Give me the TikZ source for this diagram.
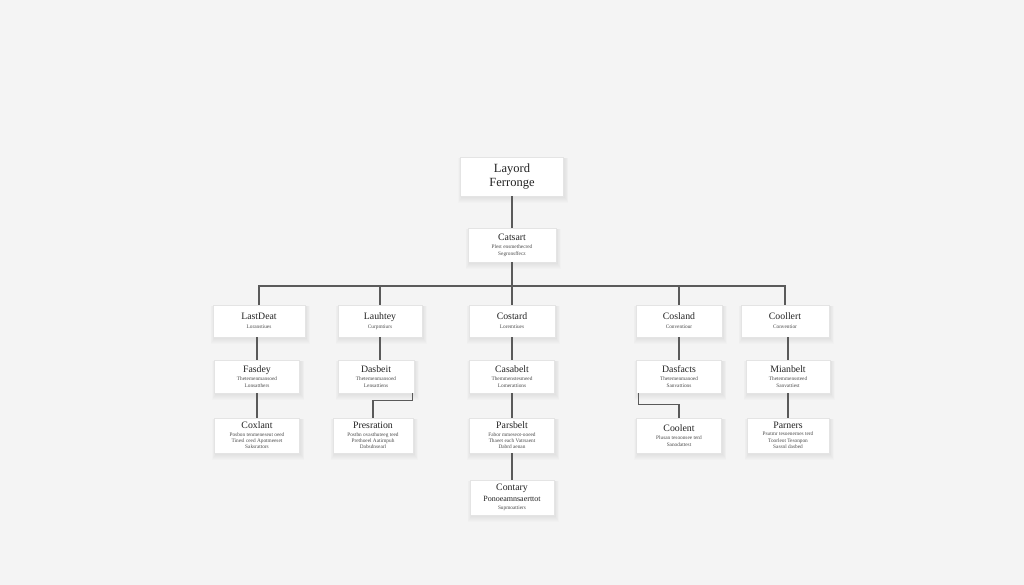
\documentclass[tikz,border=0pt]{standalone}
\usepackage{fontspec}
\setmainfont{Liberation Serif}
\definecolor{bgcol}{HTML}{F4F4F4}
\definecolor{boxline}{HTML}{E4E4E4}
\definecolor{conn}{HTML}{5A5A5A}
\definecolor{txt}{HTML}{222222}
\definecolor{subtxt}{HTML}{4A4A4A}
\pgfdeclarelayer{bglayer}
\pgfdeclarelayer{shadowlayer}
\pgfsetlayers{bglayer,shadowlayer,main}
\tikzset{
  card/.style={draw=boxline, line width=0.4pt, fill=white, align=center,
    inner sep=1pt, text=txt, font=\fontsize{5.3}{7}\selectfont},
  tall/.style={font=\fontsize{5.3}{6.4}\selectfont},
  lnk/.style={draw=conn, line width=1.2pt},
}
\newcommand{\ttl}[1]{{\fontsize{9.8}{11}\selectfont #1}}
\newcommand{\sbt}[1]{{\color{subtxt}#1}}
\begin{document}
\begin{tikzpicture}[x=1pt,y=-1pt]
\begin{pgfonlayer}{bglayer}
\fill[bgcol] (0,0) rectangle (1024,585);
\end{pgfonlayer}
% top
\node[card, minimum width=103pt, minimum height=39pt, font=\fontsize{12.5}{13.5}\selectfont] (top) at (512,176.5)
  {Layord\\Ferronge};
\node[card, minimum width=88pt, minimum height=34pt] (catsart) at (512,245)
  {\ttl{Catsart}\\[1pt]\sbt{Plest ensmethecred}\\\sbt{Segronsffecz}};
% row 1
\node[card, minimum width=92pt, minimum height=32pt] (lastdeat) at (259,321) {\ttl{LastDeat}\\[2pt]\sbt{Loranstiues}};
\node[card, minimum width=84pt, minimum height=32pt] (lauhtey) at (380,321) {\ttl{Lauhtey}\\[2pt]\sbt{Curpmtiurs}};
\node[card, minimum width=86pt, minimum height=32pt] (costard) at (512,321) {\ttl{Costard}\\[2pt]\sbt{Loremtiues}};
\node[card, minimum width=86pt, minimum height=32pt] (cosland) at (679,321) {\ttl{Cosland}\\[2pt]\sbt{Conventiour}};
\node[card, minimum width=88pt, minimum height=32pt] (coollert) at (785,321) {\ttl{Coollert}\\[2pt]\sbt{Conventior}};
% row 2
\node[card, minimum width=85pt, minimum height=33pt] (fasdey) at (257,376.5) {\ttl{Fasdey}\\[1pt]\sbt{Thetemenmansoed}\\\sbt{Lonsatthers}};
\node[card, minimum width=76pt, minimum height=33pt] (dasbeit) at (376,376.5) {\ttl{Dasbeit}\\[1pt]\sbt{Thetemenmansoed}\\\sbt{Lensattiens}};
\node[card, minimum width=85pt, minimum height=33pt] (casabelt) at (512,376.5) {\ttl{Casabelt}\\[1pt]\sbt{Themmenstesmeed}\\\sbt{Lomerattions}};
\node[card, minimum width=85pt, minimum height=33pt] (dasfacts) at (679,376.5) {\ttl{Dasfacts}\\[1pt]\sbt{Thetemenmanoed}\\\sbt{Sanvattions}};
\node[card, minimum width=84pt, minimum height=33pt] (mianbelt) at (788,376.5) {\ttl{Mianbelt}\\[1pt]\sbt{Thetemmenssteed}\\\sbt{Sanvattiest}};
% row 3
\node[card, tall, minimum width=85pt, minimum height=35pt] (coxlant) at (257,435.5) {\ttl{Coxlant}\\[1pt]\sbt{Posbon tenmeneseut oeed}\\\sbt{Tinesl ceed Apotmeeset}\\\sbt{Saksrattors}};
\node[card, tall, minimum width=80pt, minimum height=35pt] (presration) at (373,435.5) {\ttl{Presration}\\[1pt]\sbt{Postbn ovasthuteeg teed}\\\sbt{Prethoeel Aatirnpuh}\\\sbt{Dabsdnsearl}};
\node[card, tall, minimum width=85pt, minimum height=35pt] (parsbelt) at (512,435.5) {\ttl{Parsbelt}\\[1pt]\sbt{Fabor mmeseot-ooeed}\\\sbt{Thaeet each Vatrsaent}\\\sbt{Dabrd aenan}};
\node[card, minimum width=85pt, minimum height=35pt] (coolent) at (679,435.5) {\ttl{Coolent}\\[1pt]\sbt{Plusan tesoonsee terd}\\\sbt{Sanodattest}};
\node[card, tall, minimum width=82pt, minimum height=35pt] (parners) at (788,435.5) {\ttl{Parners}\\[1pt]\sbt{Psutmr tesoenernes terd}\\\sbt{Toorleot Tesonpon}\\\sbt{Sassnl dasbed}};
% row 4
\node[card, minimum width=84pt, minimum height=35pt] (contary) at (512,497.5) {\ttl{Contary}\\[3pt]{\fontsize{8}{9}\selectfont Ponoeamnsaerttot}\\[1pt]\sbt{Supmoattiers}};
% shadows
\begin{pgfonlayer}{shadowlayer}
\foreach \n in {top,catsart,lastdeat,lauhtey,costard,cosland,coollert,fasdey,dasbeit,casabelt,dasfacts,mianbelt,coxlant,presration,parsbelt,coolent,parners,contary}{
  \foreach \k in {1,2,3,4,5,6}{
    \fill[black, opacity=0.011] ([shift={(1.5-0.6*\k,1)}]\n.north west) rectangle ([shift={(1+0.6*\k,1+0.9*\k)}]\n.south east);
  }
}
\end{pgfonlayer}
% connectors
\coordinate (hub) at (512,286);
\draw[lnk] (top) -- (catsart);
\draw[lnk] (catsart) -- (hub);
\draw[lnk] (hub) -| (lastdeat);
\draw[lnk] (hub) -| (lauhtey);
\draw[lnk] (hub) -- (costard);
\draw[lnk] (hub) -| (cosland);
\draw[lnk] (hub) -| (coollert);
\draw[lnk] (lastdeat.south -| fasdey.north) -- (fasdey.north);
\draw[lnk] (lauhtey.south) -- (lauhtey.south |- dasbeit.north);
\draw[lnk] (costard) -- (casabelt);
\draw[lnk] (cosland) -- (dasfacts);
\draw[lnk] (coollert.south -| mianbelt.north) -- (mianbelt.north);
\draw[lnk] (fasdey) -- (coxlant);
\draw[lnk] ([xshift=-2pt]dasbeit.south east) -- ++(0,7) -| (presration.north);
\draw[lnk] (casabelt) -- (parsbelt);
\draw[lnk] ([xshift=2pt]dasfacts.south west) -- ++(0,11) -| (coolent.north);
\draw[lnk] (mianbelt) -- (parners);
\draw[lnk] (parsbelt) -- (contary);
\end{tikzpicture}
\end{document}
